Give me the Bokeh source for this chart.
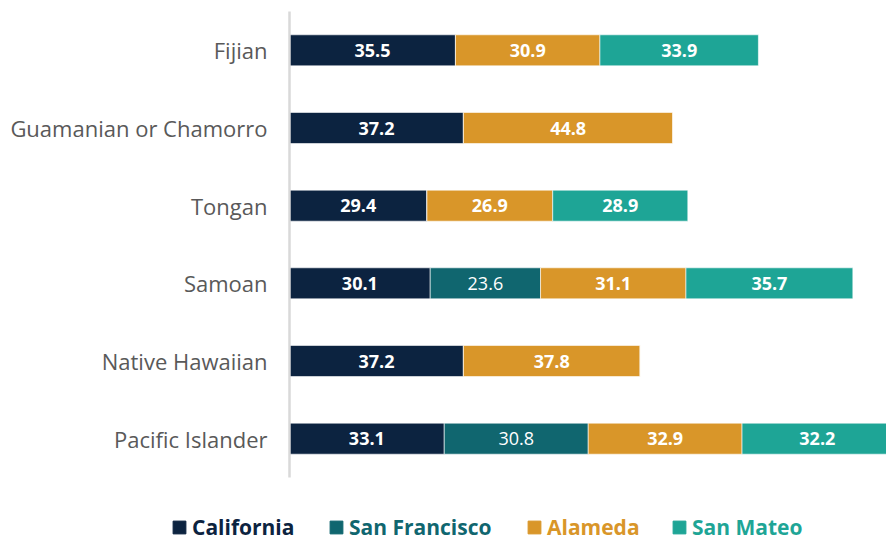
from bokeh.plotting import figure
from bokeh.layouts import column
from bokeh.models import Range1d, Legend, LegendItem, ColumnDataSource
from bokeh.core.properties import value
from bokeh.embed import file_html
from bokeh.resources import INLINE

categories = ["Fijian", "Guamanian or Chamorro", "Tongan", "Samoan", "Native Hawaiian", "Pacific Islander"]
series = ["California", "San Francisco", "Alameda", "San Mateo"]
california = [35.5, 37.2, 29.4, 30.1, 37.2, 33.1]
san_francisco = [0, 0, 0, 23.6, 0, 30.8]
alameda = [30.9, 44.8, 26.9, 31.1, 37.8, 32.9]
san_mateo = [33.9, 0, 28.9, 35.7, 0, 32.2]
colors = ["#0c2340", "#10666f", "#d99629", "#1ea596"]
values = [california, san_francisco, alameda, san_mateo]

FONT = "Open Sans"

p = figure(width=886, height=489, y_range=list(reversed(categories)),
           x_range=Range1d(0, 127.7), output_backend="svg", toolbar_location=None,
           min_border_left=289, min_border_right=0, min_border_top=11, min_border_bottom=12)
p.y_range.range_padding = 0
p.frame_align = False

data = {"cat": categories}
for s, v in zip(series, values):
    data[s] = v
src = ColumnDataSource(data)
rends = p.hbar_stack(series, y="cat", height=0.4, color=colors, source=src,
                     line_color="white", line_width=0.6)

# value labels
left = [0.0] * len(categories)
for s, v, c in zip(series, values, colors):
    xs, ys, ts = [], [], []
    for i, val in enumerate(v):
        if val > 0:
            xs.append(left[i] + val / 2)
            ys.append(categories[i])
            ts.append(f"{val:.1f}")
        left[i] += val
    p.text(x=xs, y=ys, text=ts, text_align="center", text_baseline="middle",
           text_color="white", text_font=value(FONT), text_font_size="18px",
           text_font_style="normal" if s == "San Francisco" else "bold")

p.xaxis.visible = False
p.xgrid.visible = False
p.ygrid.visible = False
p.outline_line_color = None
p.yaxis.axis_line_color = "#d9d9d9"
p.yaxis.axis_line_width = 2.5
p.yaxis.major_tick_line_color = None
p.yaxis.minor_tick_line_color = None
p.yaxis.major_label_text_font = FONT
p.yaxis.major_label_text_font_size = "22px"
p.yaxis.major_label_text_color = "#595959"
p.yaxis.major_label_standoff = 16

# legend figure: one legend per series so each label keeps its series colour
lf = figure(width=886, height=52, x_range=Range1d(0, 1), y_range=Range1d(0, 1),
            output_backend="svg", toolbar_location=None,
            min_border_left=0, min_border_right=0, min_border_top=0, min_border_bottom=0)
lf.frame_align = False
lf.axis.visible = False
lf.grid.visible = False
lf.outline_line_color = None
leg_x = [171, 328, 526, 671]
for s, c, lx in zip(series, colors, leg_x):
    r = lf.rect(x=[-10], y=[-10], width=1, height=1, color=c)
    lg = Legend(items=[LegendItem(label=s, renderers=[r])], location=(lx, 0),
                orientation="horizontal", padding=0, margin=0, spacing=0,
                border_line_color=None, background_fill_alpha=0,
                glyph_width=16, glyph_height=16, label_standoff=5,
                label_text_font=FONT, label_text_font_size="21px",
                label_text_font_style="bold", label_text_color=c)
    lf.add_layout(lg, "center")

layout = column(p, lf, spacing=0)
open("out.html", "w").write(file_html(layout, INLINE))
